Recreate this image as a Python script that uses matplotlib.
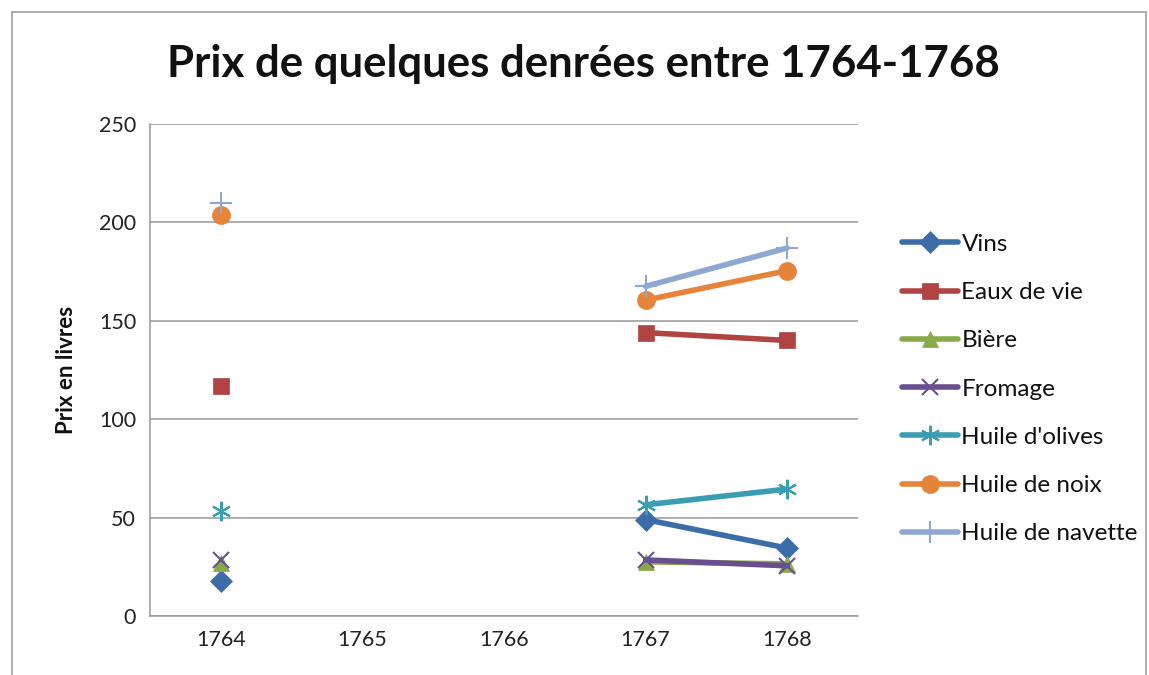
import numpy as np
import matplotlib
matplotlib.use("Agg")
import matplotlib.pyplot as plt
from matplotlib.lines import Line2D

plt.rcParams['font.family'] = ['Lato', 'DejaVu Sans']

years = ['1764', '1765', '1766', '1767', '1768']
nan = np.nan
vins = [18, nan, nan, 49, 34.5]
eaux_de_vie = [117, nan, nan, 144, 140]
biere = [27, nan, nan, 27.5, 26.5]
fromage = [28.5, nan, nan, 28.5, 25.5]
huile_olives = [53.5, nan, nan, 56.5, 64.5]
huile_noix = [204, nan, nan, 160.5, 175.5]
huile_navette = [210, nan, nan, 167.5, 187]

series = [
    ('Vins', vins, '#3B6DA8', 'D', 11),
    ('Eaux de vie', eaux_de_vie, '#B04442', 's', 12),
    ('Bière', biere, '#8AAA48', '^', 12),
    ('Fromage', fromage, '#6A4F8F', 'x', 12),
    ("Huile d'olives", huile_olives, '#3A9DB2', (6, 2, 0), 14),
    ('Huile de noix', huile_noix, '#E5843A', 'o', 13),
    ('Huile de navette', huile_navette, '#8EA8D2', '+', 16),
]

fig = plt.figure(figsize=(11.49, 6.75), dpi=100)
# outer chart frame (top, left, right edges visible)
W, H = 1149, 675
for (x0, y0, x1, y1) in [(12, 12, 1146, 12), (12, 12, 12, 675), (1146, 12, 1146, 675)]:
    fig.add_artist(Line2D([x0 / W, x1 / W], [1 - y0 / H, 1 - y1 / H], transform=fig.transFigure,
                          color='#A0A0A0', linewidth=1.2))

ax = fig.add_axes([150 / W, (H - 616) / H, (858 - 150) / W, (616 - 124) / H])

x = np.arange(len(years))
handles = []
for name, vals, col, mk, ms in series:
    mew = 1.5 if mk in ('x', '+') or isinstance(mk, tuple) else 0.5
    ax.plot(x, vals, color=col, linewidth=4, marker=mk, markersize=ms,
            markeredgewidth=mew, markeredgecolor=col, markerfacecolor=col, solid_capstyle='round')
    handles.append(Line2D([0], [0], color=col, linewidth=4, marker=mk, markersize=ms,
                          markeredgewidth=mew, markeredgecolor=col, markerfacecolor=col,
                          solid_capstyle='round'))

ax.set_xlim(-0.5, len(years) - 0.5)
ax.set_ylim(0, 250)
ax.set_yticks([0, 50, 100, 150, 200, 250])
ax.set_xticks(x)
ax.set_xticklabels(years)
ax.tick_params(axis='both', labelsize=15.5, length=0, pad=10, colors='#222222')
ax.yaxis.grid(True, color='#A0A0A0', linewidth=1.2)
ax.set_axisbelow(True)
for s in ['top', 'right']:
    ax.spines[s].set_visible(False)
for s in ['left', 'bottom']:
    ax.spines[s].set_color('#A0A0A0')
    ax.spines[s].set_linewidth(1.2)
ax.set_ylabel('Prix en livres', fontsize=16, fontweight='bold', labelpad=16, color='#111111')

fig.text(0.508, 0.905, 'Prix de quelques denrées entre 1764-1768', ha='center', va='center',
         fontsize=31.5, fontweight='bold', color='#111111')

leg = fig.legend(handles, [s[0] for s in series], loc='upper left',
                 bbox_to_anchor=(880 / W, 1 - 212 / H), frameon=False,
                 fontsize=17.5, handlelength=2.3, handletextpad=0.15, labelspacing=1.12)
for t in leg.get_texts():
    t.set_color('#111111')

fig.savefig('out.png', dpi=100)
